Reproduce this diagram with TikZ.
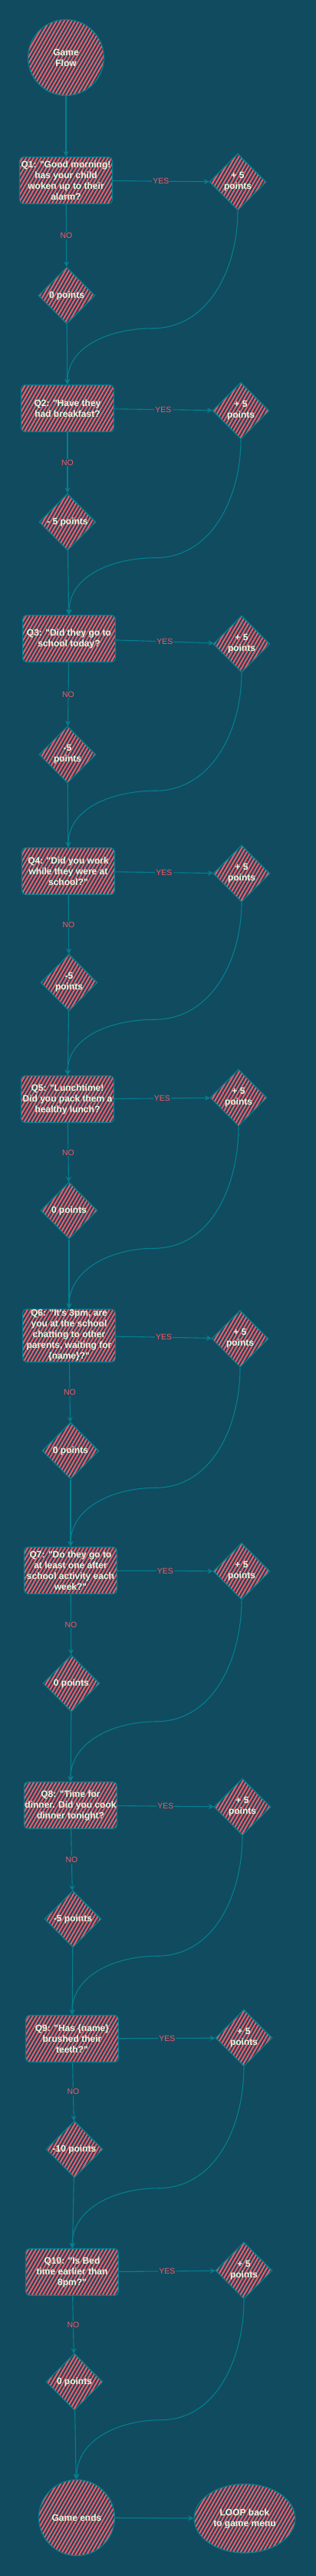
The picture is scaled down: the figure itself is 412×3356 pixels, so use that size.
\documentclass[tikz,border=0pt]{standalone}
\usepackage{fontspec}
\setmainfont{Liberation Sans}[Ligatures=TeXOff]
\usetikzlibrary{calc,shapes.geometric,patterns.meta,arrows.meta}

\definecolor{bgteal}{HTML}{114B5F}
\definecolor{lineteal}{HTML}{028090}
\definecolor{hatchpink}{HTML}{F45B69}
\definecolor{textmint}{HTML}{E4FDE1}

\begin{document}
\begin{tikzpicture}[x=1pt,y=-1pt,
  hatched/.style={draw=lineteal,line width=1.1pt,text=textmint,align=center,
    font=\fontsize{12}{14}\selectfont\bfseries,
    pattern={Lines[angle=60,distance=4.2pt,line width=2pt]},pattern color=hatchpink},
  question/.style={hatched,rectangle,rounded corners=5pt,minimum width=121pt,minimum height=61pt,inner sep=1pt},
  score/.style={hatched,diamond,minimum width=74pt,minimum height=74pt,inner sep=0pt},
  terminal/.style={hatched,circle,minimum size=99pt,inner sep=0pt},
  link/.style={draw=lineteal,line width=1.1pt,-{Stealth[open,length=7pt,width=7pt]}},
  answer/.style={fill=bgteal,text=hatchpink,font=\fontsize{10.5}{12}\selectfont,inner sep=1pt}]

  \fill[bgteal] (0,0) rectangle (412,3356);

  \node[terminal] (start) at (86,75) {Game\\Flow};

  \node[question] (q1) at (86,235) {Q1: "Good morning!\\has your child\\woken up to their\\alarm?};
  \node[score] (p1) at (310,237) {+ 5\\points};
  \node[score] (m1) at (87,385) {0 points};

  \node[question] (q2) at (88,532) {Q2: "Have they\\had breakfast?};
  \node[score] (p2) at (314,535) {+ 5\\points};
  \node[score] (m2) at (88,680) {- 5 points};

  \node[question] (q3) at (90,832) {Q3: "Did they go to\\school today?};
  \node[score] (p3) at (315,839) {+ 5\\points};
  \node[score] (m3) at (88,983) {-5\\points};

  \node[question] (q4) at (89,1135) {Q4: "Did you work\\while they were at\\school?"};
  \node[score] (p4) at (315,1138) {+ 5\\points};
  \node[score] (m4) at (90,1280) {-5\\points};

  \node[question] (q5) at (88,1432) {Q5: "Lunchtime!\\Did you pack them a\\healthy lunch?};
  \node[score] (p5) at (311,1430) {+ 5\\points};
  \node[score] (m5) at (90,1577) {0 points};

  \node[question] (q6) at (90,1740) {Q6: "It's 3pm, are\\you at the school\\chatting to other\\parents, waiting for\\\{name\}?"};
  \node[score] (p6) at (313,1744) {+ 5\\points};
  \node[score] (m6) at (92,1890) {0 points};

  \node[question] (q7) at (92,2046) {Q7: "Do they go to\\at least one after\\school activity each\\week?"};
  \node[score] (p7) at (315,2047) {+ 5\\points};
  \node[score] (m7) at (93,2193) {0 points};

  \node[question] (q8) at (92,2352) {Q8: "Time for\\dinner. Did you cook\\dinner tonight?};
  \node[score] (p8) at (316,2354) {+ 5\\points};
  \node[score] (m8) at (95,2500) {-5 points};

  \node[question] (q9) at (94,2656) {Q9: "Has \{name\}\\brushed their\\teeth?"};
  \node[score] (p9) at (318,2655) {+ 5\\points};
  \node[score] (m9) at (97,2800) {-10 points};

  \node[question] (q10) at (94,2960) {Q10: "Is Bed\\time earlier than\\8pm?"};
  \node[score] (p10) at (318,2958) {+ 5\\points};
  \node[score] (m10) at (97,3103) {0 points};

  \node[terminal] (stop) at (100,3280) {Game ends};
  \node[hatched,ellipse,minimum width=132pt,minimum height=90pt,inner sep=0pt] (menu) at (319,3281) {LOOP back\\to game menu};

  \draw[link] (start) -- (q1);
  \foreach \i/\n in {1/q2,2/q3,3/q4,4/q5,5/q6,6/q7,7/q8,8/q9,9/q10,10/stop}{
    \draw[link] (q\i) -- node[answer] {YES} (p\i);
    \draw[link] (q\i) -- node[answer] {NO} (m\i);
    \draw[link] (m\i) -- (\n);
    \draw[link] (p\i.south) to[out=-90,in=0] ($(p\i.south)!0.5!(\n.north)+(0,40)$) to[out=180,in=90] (\n.north);
  }
  \draw[link] (stop) -- (menu);
\end{tikzpicture}
\end{document}
